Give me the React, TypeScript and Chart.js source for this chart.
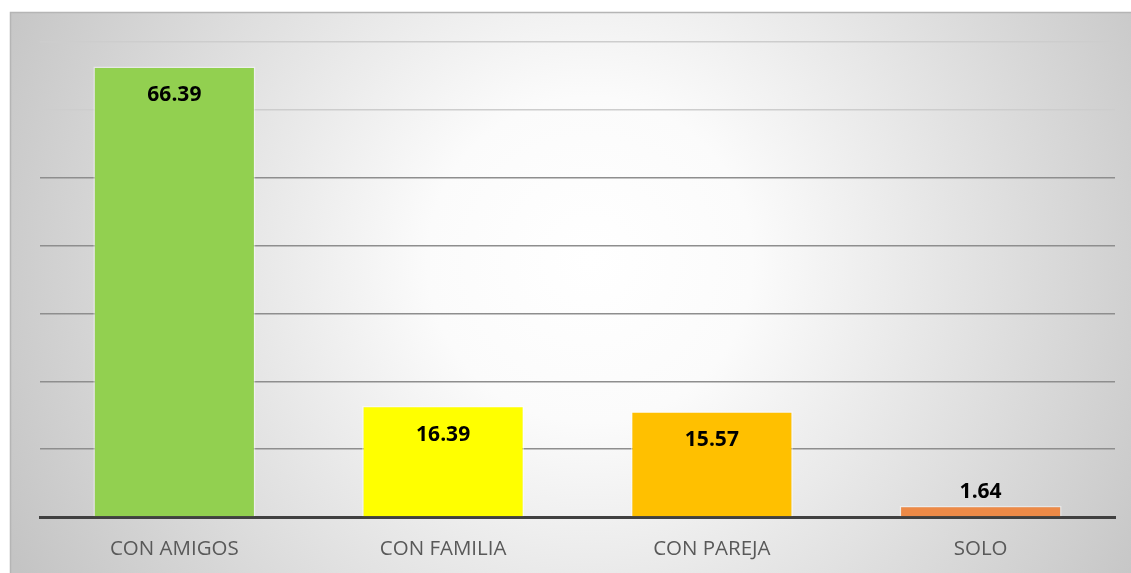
import React, { useEffect, useRef } from "react";
import { Chart, registerables } from "chart.js";

Chart.register(...registerables);

const categories = ["CON AMIGOS", "CON FAMILIA", "CON PAREJA", "SOLO"];
const values = [66.39, 16.39, 15.57, 1.64];
const barColors = ["#92D050", "#FFFF00", "#FFC000", "#ED8A47"];
const valueLabels = ["66.39", "16.39", "15.57", "1.64"];

const panelPlugin = {
  id: "panel",
  beforeDraw(chart: any) {
    const { ctx, width, height } = chart;
    ctx.save();
    ctx.fillStyle = "#ffffff";
    ctx.fillRect(0, 0, width, height);
    const g = ctx.createRadialGradient(590, 260, 0, 590, 260, 650);
    g.addColorStop(0, "#ffffff");
    g.addColorStop(0.25, "#fbfbfb");
    g.addColorStop(1, "#c4c4c4");
    ctx.fillStyle = g;
    ctx.fillRect(10, 12, width - 10, height - 12);
    ctx.strokeStyle = "#b5b5b5";
    ctx.lineWidth = 1.5;
    ctx.beginPath();
    ctx.moveTo(10.5, height);
    ctx.lineTo(10.5, 12.5);
    ctx.lineTo(width, 12.5);
    ctx.stroke();
    ctx.restore();
  },
};

const labelPlugin = {
  id: "valueLabels",
  afterDatasetsDraw(chart: any) {
    const { ctx } = chart;
    const meta = chart.getDatasetMeta(0);
    ctx.save();
    ctx.font = "bold 21px 'Open Sans'";
    ctx.fillStyle = "#000000";
    ctx.textAlign = "center";
    ctx.textBaseline = "middle";
    meta.data.forEach((bar: any, i: number) => {
      const h = bar.base - bar.y;
      const y = h > 45 ? bar.y + 29 : bar.y - 14;
      ctx.fillText(valueLabels[i], bar.x, y);
    });
    ctx.restore();
  },
};

export default function App() {
  const ref = useRef<HTMLCanvasElement>(null);
  useEffect(() => {
    if (!ref.current) return;
    const chart = new Chart(ref.current, {
      type: "bar",
      data: {
        labels: categories,
        datasets: [
          {
            data: values,
            backgroundColor: barColors,
            borderColor: "rgba(255,255,255,0.45)",
            borderWidth: 1.5,
            categoryPercentage: 1,
            barPercentage: 0.603,
          },
        ],
      },
      options: {
        responsive: false,
        animation: false,
        maintainAspectRatio: false,
        layout: { padding: { left: 40, right: 16, top: 42, bottom: 0 } },
        plugins: {
          legend: { display: false },
          tooltip: { enabled: false },
        },
        scales: {
          x: {
            grid: { display: false, drawTicks: false },
            border: { display: true, color: "#404040", width: 3 },
            ticks: {
              color: "#595959",
              padding: 20,
              font: { family: "'Open Sans'", size: 20.5 },
            },
            afterFit: (s: any) => {
              s.height = 56;
            },
          },
          y: {
            min: 0,
            max: 70,
            ticks: { display: false, stepSize: 10 },
            border: { display: false },
            grid: {
              drawTicks: false,
              lineWidth: 1.5,
              color: (c: any) =>
                c.tick && c.tick.value >= 60 ? "#cdcdcd" : "#8e8e8e",
            },
          },
        },
      },
      plugins: [panelPlugin, labelPlugin],
    });
    return () => chart.destroy();
  }, []);
  return (
    <div style={{ position: "fixed", left: 0, top: 0, width: 1131, height: 573 }}>
      <canvas ref={ref} width={1131} height={573} />
    </div>
  );
}
